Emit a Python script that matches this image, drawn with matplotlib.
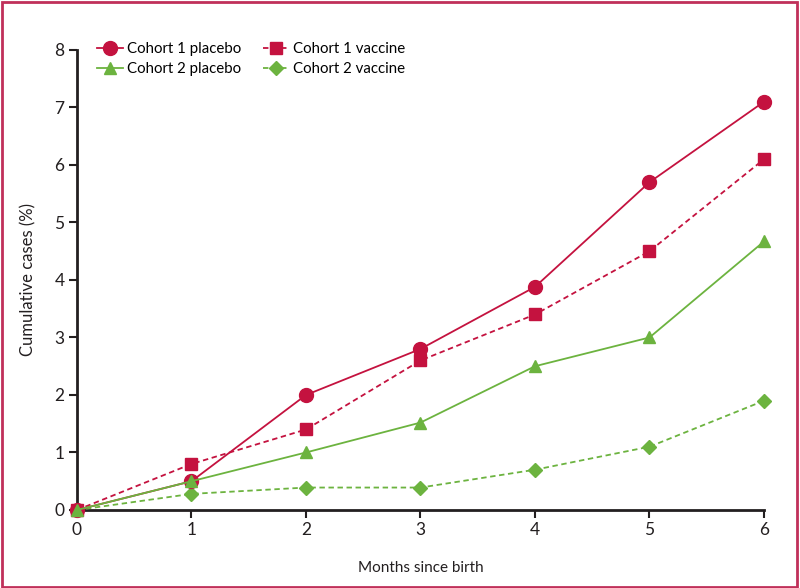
import matplotlib
matplotlib.use("Agg")
import matplotlib.pyplot as plt
from matplotlib.patches import Rectangle

months = [0, 1, 2, 3, 4, 5, 6]
c1_placebo = [0, 0.5, 2.0, 2.8, 3.88, 5.7, 7.1]
c1_vaccine = [0, 0.8, 1.4, 2.6, 3.4, 4.5, 6.1]
c2_placebo = [0, 0.5, 1.0, 1.52, 2.5, 3.0, 4.67]
c2_vaccine = [0, 0.28, 0.39, 0.39, 0.7, 1.1, 1.9]
yticks = [0, 1, 2, 3, 4, 5, 6, 7, 8]

plt.rcParams['font.family'] = ['Lato', 'DejaVu Sans']

red = '#c4123f'
green = '#6cb33f'
ink = '#231f20'

fig = plt.figure(figsize=(8, 5.88), dpi=100)
ax = fig.add_axes([0.09625, 0.1327, 0.955 - 0.09625, 0.915 - 0.1327])

ax.plot(months, c1_placebo, color=red, lw=1.3, marker='o', ms=10, label='Cohort 1 placebo', clip_on=False, zorder=4)
ax.plot(months, c2_placebo, color=green, lw=1.3, marker='^', ms=9, label='Cohort 2 placebo', clip_on=False, zorder=5)
ax.plot(months, c1_vaccine, color=red, lw=1.3, ls=(0, (3, 2)), marker='s', ms=8.5, label='Cohort 1 vaccine', clip_on=False, zorder=3)
ax.plot(months, c2_vaccine, color=green, lw=1.3, ls=(0, (3, 2)), marker='D', ms=7, label='Cohort 2 vaccine', clip_on=False, zorder=3)

ax.set_xlim(0, 6)
ax.set_ylim(0, 8)
ax.set_xticks(months)
ax.set_yticks(yticks)
for s in ['top', 'right']:
    ax.spines[s].set_visible(False)
for s in ['left', 'bottom']:
    ax.spines[s].set_linewidth(2)
    ax.spines[s].set_color(ink)
ax.tick_params(direction='out', length=6, width=1.5, color=ink, labelsize=12.5, labelcolor=ink, pad=3)
ax.set_xlabel('Months since birth', fontsize=11, color=ink, labelpad=16)
ax.set_ylabel('Cumulative cases (%)', fontsize=12, color=ink, labelpad=13)

leg = ax.legend(ncol=2, loc='upper left', bbox_to_anchor=(0.021, 1.03), frameon=False,
                fontsize=10.8, handlelength=1.7, columnspacing=1.5, labelspacing=0.42,
                handletextpad=0.25, borderaxespad=0)

fig.patches.append(Rectangle((0.002, 0.002), 0.994, 0.994, transform=fig.transFigure,
                             fill=False, edgecolor='#c0305a', lw=2))

fig.savefig('out.png', dpi=100)
